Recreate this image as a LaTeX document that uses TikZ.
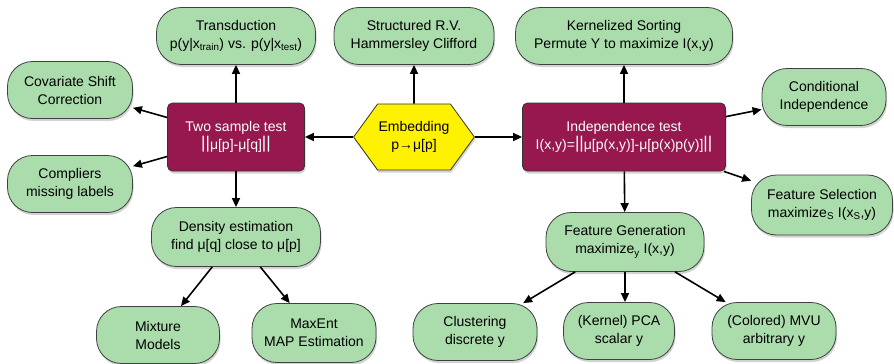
\documentclass[tikz,border=0pt]{standalone}
\usepackage{fontspec}
\setmainfont{Liberation Sans}
\usetikzlibrary{shapes.geometric,shapes.symbols,shadows,arrows.meta,calc,positioning}

\definecolor{leafgreen}{RGB}{170,221,171}
\definecolor{testred}{RGB}{150,24,78}
\newcommand{\nrm}{\raisebox{1.5pt}{\fontsize{17}{17}\selectfont||}}

\begin{document}
\begin{tikzpicture}[x=1pt,y=-1pt,line join=round,
  font=\fontsize{14}{18}\selectfont,
  shade/.style={drop shadow={shadow xshift=1pt,shadow yshift=-2.5pt,opacity=.35}},
  leaf/.style={draw=black!75,line width=.8pt,fill=leafgreen,rounded corners=25pt,minimum height=57pt,align=center,inner sep=2pt,shade},
  testbox/.style={draw=black!80,line width=.8pt,fill=testred,text=white,rounded corners=5pt,minimum height=68pt,align=center,shade},
  embed/.style={draw=black!80,line width=.8pt,fill=yellow,signal,signal to=west and east,signal pointer angle=108,minimum width=110pt,minimum height=66pt,align=center,inner sep=1pt,shade},
  link/.style={-{Triangle[length=9pt,width=8pt]},line width=1.6pt}]
\useasboundingbox (0,0) rectangle (894,364);
% centre
\node[embed] (E) at (414,137) {Embedding\\p→μ[p]};
\node[testbox,minimum width=137pt] (T) at (236,137) {Two sample test\\\nrm μ[p]-μ[q]\nrm};
\node[testbox,minimum width=203pt] (I) at (624,137) {Independence test\\I(x,y)=\nrm μ[p(x,y)]-μ[p(x)p(y)]\nrm};
% top row
\node[leaf,minimum width=159pt] (trans) at (236,36) {Transduction\\p(y|x\textsubscript{train}) vs. p(y|x\textsubscript{test})};
\node[leaf,minimum width=160pt] (struct) at (414,36) {Structured R.V.\\Hammersley Clifford};
\node[leaf,minimum width=217pt] (sort) at (624,36) {Kernelized Sorting\\Permute Y to maximize I(x,y)};
% left side
\node[leaf,minimum width=125pt] (cov) at (70,90) {Covariate Shift\\Correction};
\node[leaf,minimum width=125pt] (comp) at (70,184) {Compliers\\missing labels};
\node[leaf,minimum width=169pt,minimum height=59pt] (dens) at (236,237) {Density estimation\\find μ[q] close to μ[p]};
\node[leaf,minimum width=123pt] (mix) at (158,335) {Mixture\\Models};
\node[leaf,minimum width=124pt,minimum height=59pt] (maxent) at (314,333) {MaxEnt\\MAP Estimation};
% right side
\node[leaf,minimum width=124pt] (cond) at (824,97) {Conditional\\Independence};
\node[leaf,minimum width=141pt,minimum height=60pt] (fsel) at (822,205) {Feature Selection\\maximize\textsubscript{S} I(x\textsubscript{S},y)};
\node[leaf,minimum width=158pt,minimum height=59pt] (fgen) at (625,242) {Feature Generation\\maximize\textsubscript{y} I(x,y)};
\node[leaf,minimum width=124pt] (clus) at (475,332) {Clustering\\discrete y};
\node[leaf,minimum width=111pt] (pca) at (619,331) {(Kernel) PCA\\scalar y};
\node[leaf,minimum width=124pt] (mvu) at (774,331) {(Colored) MVU\\arbitrary y};
% arrows
\draw[link] (E) -- (T);
\draw[link] (E) -- (I);
\draw[link] (E) -- (E |- struct.south);
\draw[link] (T) -- (trans);
\draw[link] (T) -- (cov);
\draw[link] (T) -- (comp);
\draw[link] (T) -- (dens);
\draw[link] (I) -- (sort);
\draw[link] (I) -- (cond);
\draw[link] (I) -- (fsel);
\draw[link] (I) -- (fgen);
\draw[link] (dens) -- (mix);
\draw[link] (dens) -- (maxent);
\draw[link] (fgen) -- (clus);
\draw[link] (fgen) -- (fgen |- pca.north);
\draw[link] (fgen) -- (mvu);
\end{tikzpicture}
\end{document}
